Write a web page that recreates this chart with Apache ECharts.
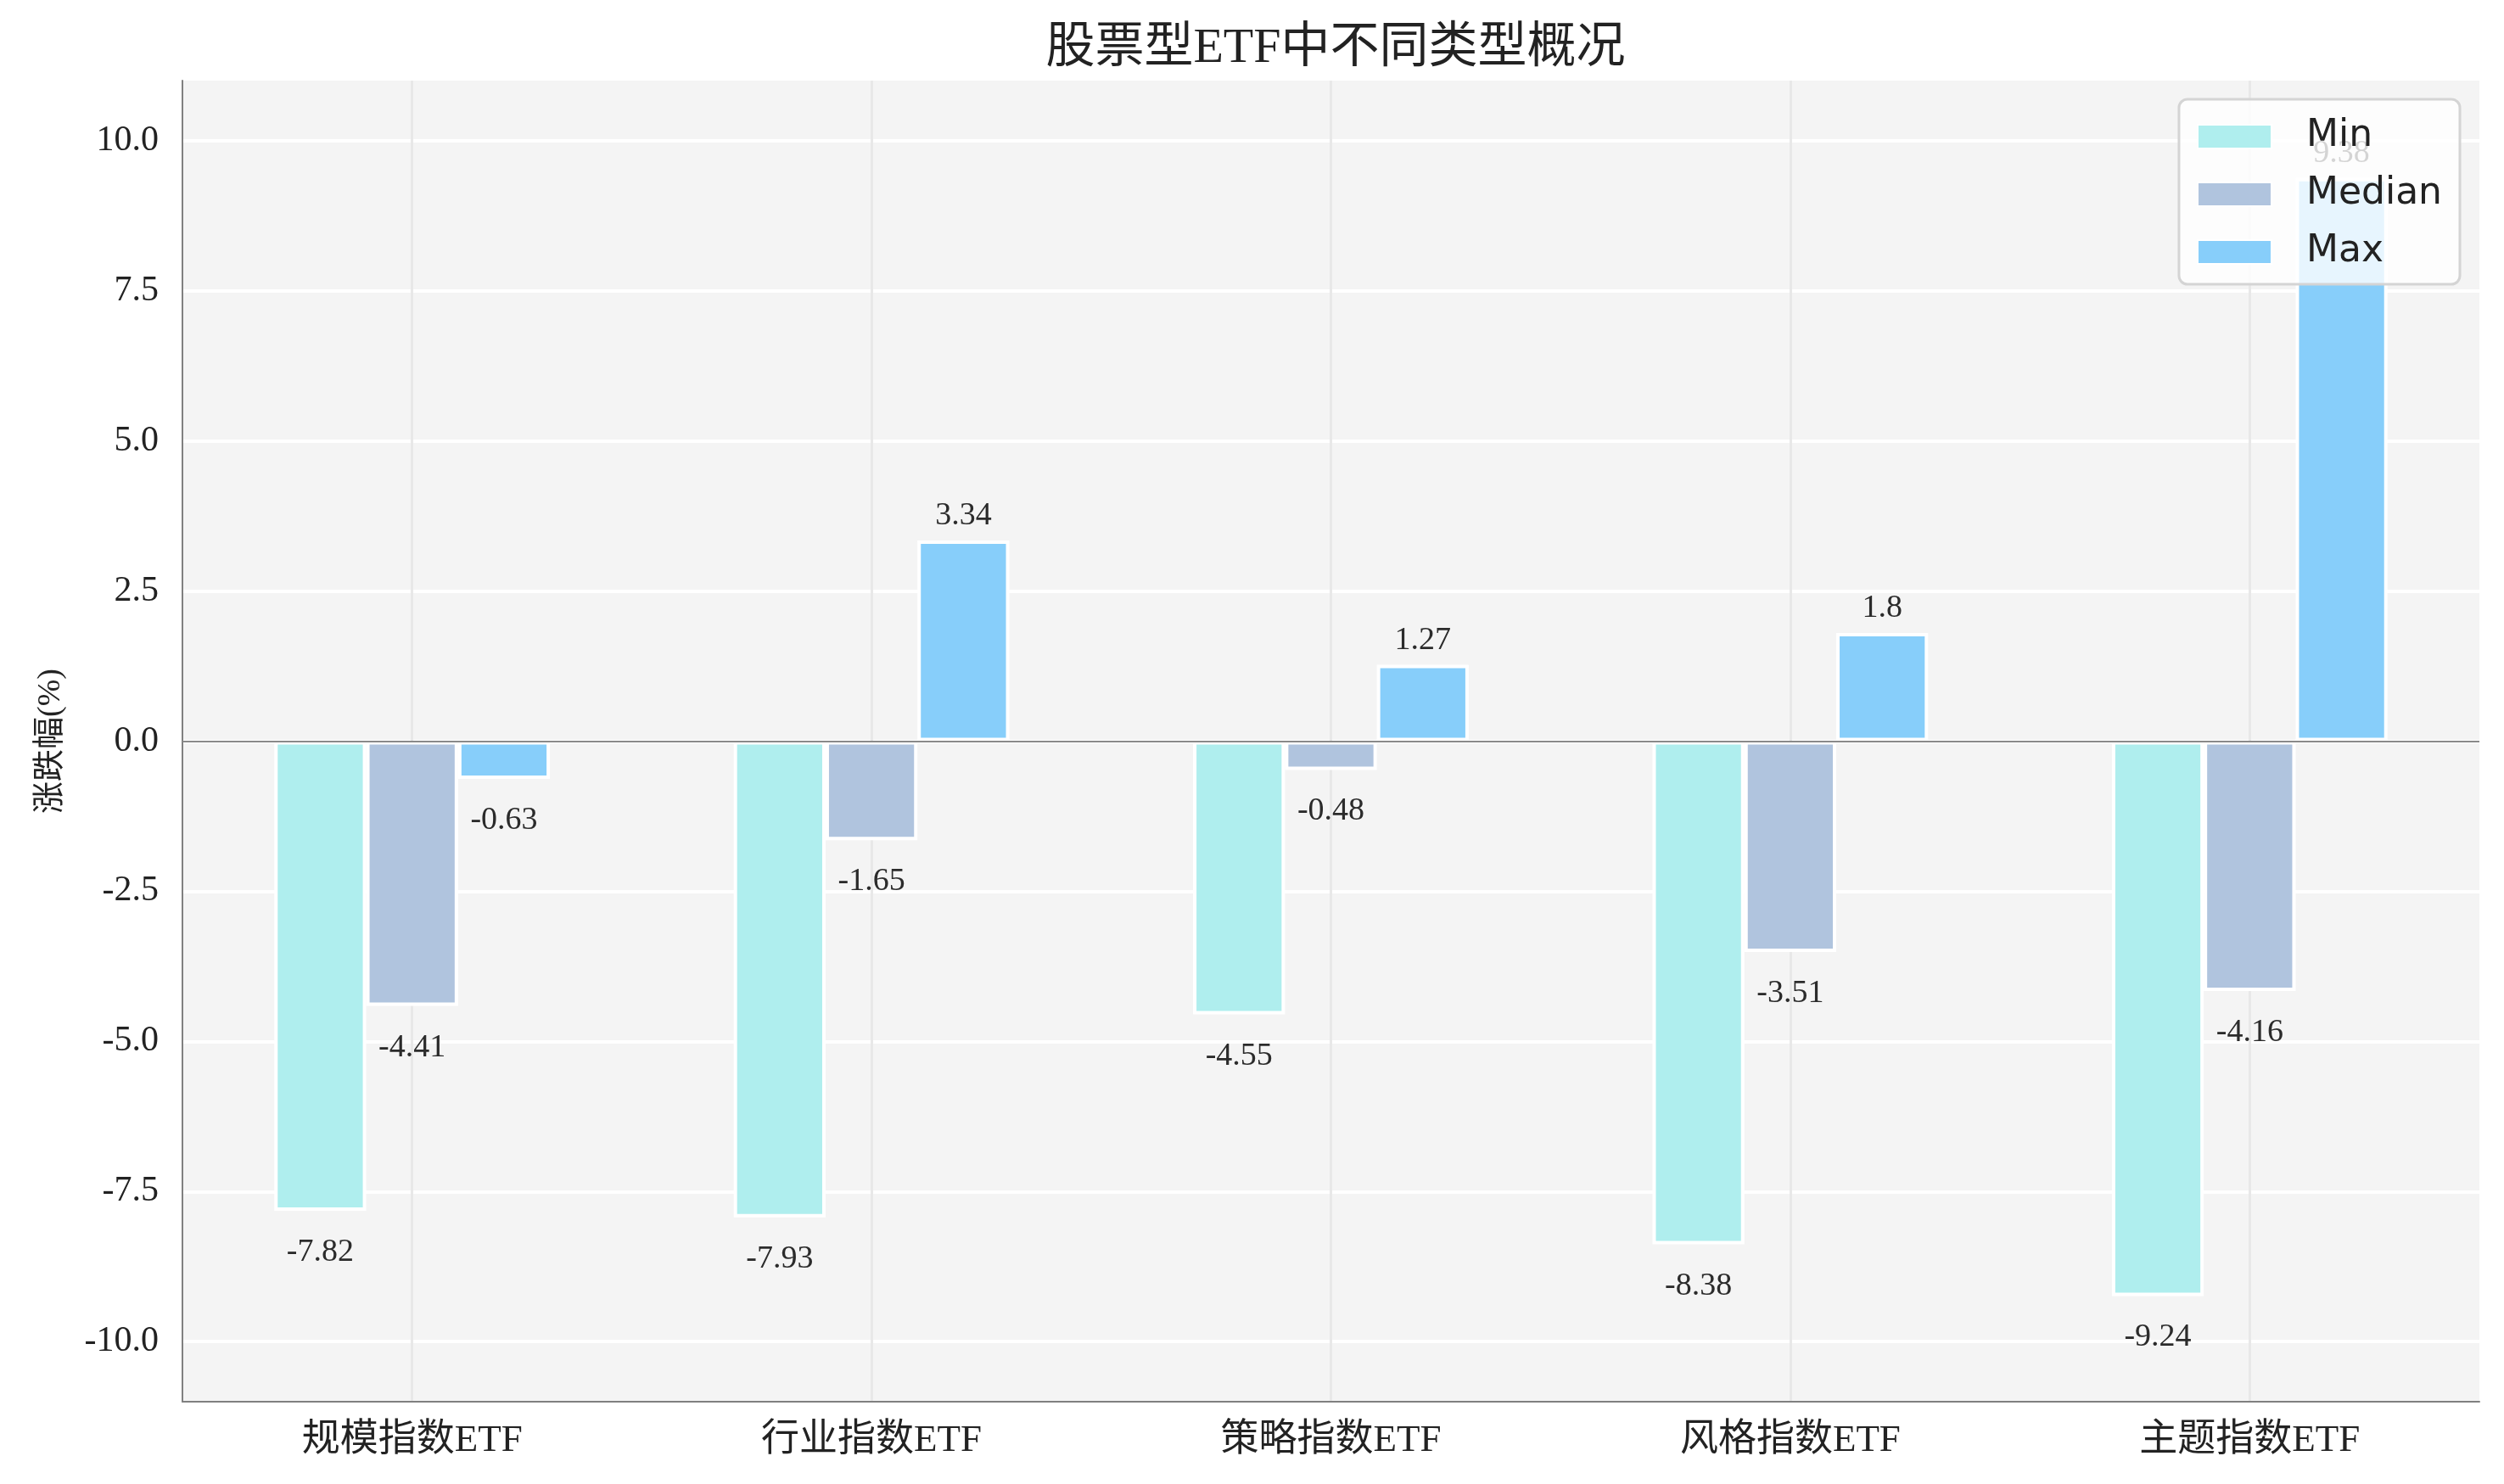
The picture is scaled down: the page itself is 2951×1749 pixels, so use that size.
<!DOCTYPE html>
<html>
<head>
<meta charset="utf-8">
<title>股票型ETF中不同类型概况</title>
<script src="https://cdn.jsdelivr.net/npm/echarts@6/dist/echarts.min.js"></script>
<style>
  html, body { margin: 0; padding: 0; background: #fff; }
  #chart { width: 2951px; height: 1749px; }
</style>
</head>
<body>
<div id="chart"></div>
<script>
const categories = ['规模指数ETF', '行业指数ETF', '策略指数ETF', '风格指数ETF', '主题指数ETF'];
const minValues = [-7.82, -7.93, -4.55, -8.38, -9.24];
const medianValues = [-4.41, -1.65, -0.48, -3.51, -4.16];
const maxValues = [-0.63, 3.34, 1.27, 1.8, 9.38];
const seriesNames = ['Min', 'Median', 'Max'];
const seriesColors = ['#afeeee', '#b0c4de', '#87cefa'];
const yTicks = [-10, -7.5, -5, -2.5, 0, 2.5, 5, 7.5, 10];

const serif = '"Liberation Serif", "Noto Sans CJK SC", serif';

// each value gets its own label offset: above for gains, below for losses
const toItems = (values) => values.map(v => ({
  value: v,
  label: { distance: v < 0 ? 30 : 10 }
}));

const makeBar = (name, values, color, withZeroLine) => {
  const s = {
    name: name,
    type: 'bar',
    barWidth: '20%',
    barGap: '0%',
    itemStyle: { color: color, borderColor: '#ffffff', borderWidth: 4 },
    label: {
      show: true,
      position: 'outside',
      fontFamily: serif,
      fontSize: 38,
      color: '#2b2b2b'
    },
    emphasis: { disabled: true },
    data: toItems(values)
  };
  if (withZeroLine) {
    s.markLine = {
      silent: true,
      symbol: 'none',
      label: { show: false },
      lineStyle: { color: '#8a8a8a', width: 2, type: 'solid' },
      data: [{ yAxis: 0 }]
    };
  }
  return s;
};

const getOption = () => ({
  backgroundColor: '#ffffff',
  animation: false,
  title: {
    text: '股票型ETF中不同类型概况',
    left: 1569,
    textAlign: 'center',
    top: 24,
    textStyle: { fontFamily: serif, fontSize: 58, fontWeight: 'normal', color: '#222' }
  },
  legend: {
    orient: 'vertical',
    right: 52,
    top: 117,
    icon: 'rect',
    itemWidth: 87,
    itemHeight: 28,
    itemGap: 24,
    padding: [22, 21, 16, 21],
    backgroundColor: 'rgba(255,255,255,0.8)',
    borderColor: '#d4d4d4',
    borderWidth: 3,
    borderRadius: 10,
    textStyle: {
      fontFamily: '"DejaVu Sans", sans-serif',
      fontSize: 44,
      lineHeight: 44,
      color: '#222',
      padding: [0, 0, 0, 36]
    },
    data: seriesNames
  },
  grid: {
    left: 215,
    right: 29,
    top: 95,
    bottom: 97,
    show: true,
    backgroundColor: '#f4f4f4',
    borderWidth: 0
  },
  xAxis: {
    type: 'category',
    data: categories,
    axisLine: { show: true, onZero: false, lineStyle: { color: '#808080', width: 2 } },
    axisTick: { show: false, alignWithLabel: true },
    splitLine: { show: true, alignWithLabel: true, lineStyle: { color: '#e8e8e8', width: 3 } },
    axisLabel: { fontFamily: serif, fontSize: 45, color: '#222', margin: 24 }
  },
  yAxis: {
    type: 'value',
    min: -11,
    max: 11,
    name: '涨跌幅(%)',
    nameLocation: 'middle',
    nameGap: 136,
    nameTextStyle: { fontFamily: serif, fontSize: 38, color: '#222' },
    axisLine: { show: true, lineStyle: { color: '#808080', width: 2 } },
    axisTick: { show: false, customValues: yTicks },
    splitLine: { show: true, lineStyle: { color: '#ffffff', width: 4 } },
    axisLabel: {
      customValues: yTicks,
      fontFamily: serif,
      fontSize: 42,
      color: '#222',
      margin: 28,
      formatter: (v) => v.toFixed(1)
    }
  },
  series: [
    makeBar(seriesNames[0], minValues, seriesColors[0], true),
    makeBar(seriesNames[1], medianValues, seriesColors[1], false),
    makeBar(seriesNames[2], maxValues, seriesColors[2], false)
  ]
});

window.addEventListener('load', () => {
  const chart = echarts.init(document.getElementById('chart'));
  chart.setOption(getOption());
});
</script>
</body>
</html>
